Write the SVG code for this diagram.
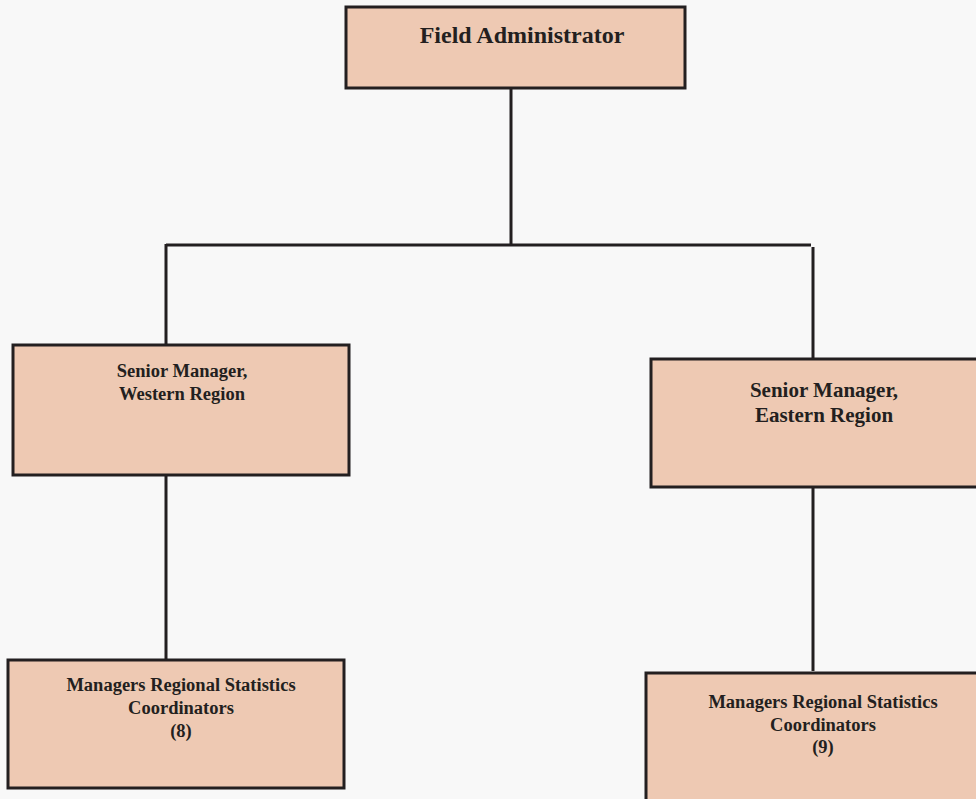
<svg xmlns="http://www.w3.org/2000/svg" width="976" height="799" viewBox="0 0 976 799">
  <style>
    .box { fill: #eec9b3; stroke: #231f20; stroke-width: 3; }
    .wire { fill: none; stroke: #231f20; stroke-width: 3; }
    .label { font-family: "Liberation Serif", "Times New Roman", serif; font-weight: bold; fill: #231f20; text-anchor: middle; }
  </style>
  <rect width="976" height="799" fill="#f8f8f8"/>

  <g id="connectors">
    <line class="wire" x1="511" y1="88" x2="511" y2="245"/>
    <line class="wire" x1="166" y1="245" x2="811" y2="245"/>
    <line class="wire" x1="166" y1="244" x2="166" y2="345"/>
    <line class="wire" x1="813" y1="247" x2="813" y2="359"/>
    <line class="wire" x1="166" y1="475" x2="166" y2="660"/>
    <line class="wire" x1="813" y1="487" x2="813" y2="671"/>
  </g>

  <g id="field-administrator">
    <rect class="box" x="346" y="7" width="339" height="81"/>
    <text class="label" x="522" y="43" font-size="24">Field Administrator</text>
  </g>

  <g id="senior-manager-western">
    <rect class="box" x="13" y="345" width="336" height="130"/>
    <text class="label" font-size="18.5"><tspan x="182" y="377">Senior Manager,</tspan><tspan x="182" y="400">Western Region</tspan></text>
  </g>

  <g id="senior-manager-eastern">
    <rect class="box" x="651" y="359" width="345" height="128"/>
    <text class="label" font-size="21"><tspan x="824" y="397">Senior Manager,</tspan><tspan x="824" y="422">Eastern Region</tspan></text>
  </g>

  <g id="coordinators-western">
    <rect class="box" x="8" y="660" width="336" height="128"/>
    <text class="label" font-size="18.5"><tspan x="181" y="691">Managers Regional Statistics</tspan><tspan x="181" y="714">Coordinators</tspan><tspan x="181" y="737">(8)</tspan></text>
  </g>

  <g id="coordinators-eastern">
    <rect class="box" x="646" y="673" width="350" height="140"/>
    <text class="label" font-size="18.5"><tspan x="823" y="708">Managers Regional Statistics</tspan><tspan x="823" y="731">Coordinators</tspan><tspan x="823" y="753">(9)</tspan></text>
  </g>
</svg>
